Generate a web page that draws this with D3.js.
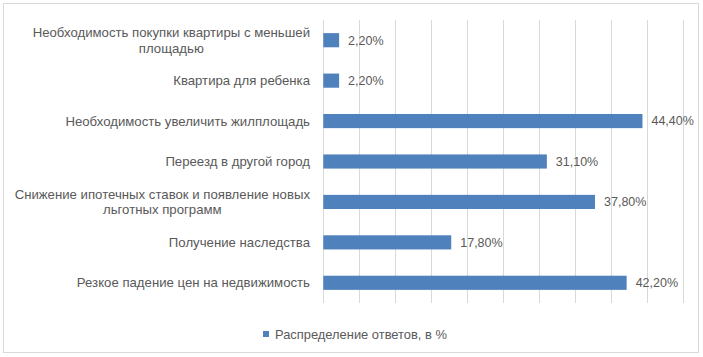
<!DOCTYPE html>
<html><head><meta charset="utf-8">
<script src="https://cdn.jsdelivr.net/npm/d3@7"></script>
<style>body{margin:0;background:#fff}svg{display:block}</style>
</head><body><svg id="c" width="703" height="357"></svg>
<script>
const categories = [
  ["Необходимость покупки квартиры с меньшей","площадью"],
  ["Квартира для ребенка"],
  ["Необходимость увеличить жилплощадь"],
  ["Переезд в другой город"],
  ["Снижение ипотечных ставок и появление новых","льготных программ"],
  ["Получение наследства"],
  ["Резкое падение цен на недвижимость"]
];
const values = [2.2, 2.2, 44.4, 31.1, 37.8, 17.8, 42.2];
const xTicks = [0,5,10,15,20,25,30,35,40,45,50];
const seriesName = "Распределение ответов, в %";

const svg = d3.select("#c");
const font = "'Liberation Sans', Arial, sans-serif";
const txt = "#595959";
svg.append("rect").attr("x",3.5).attr("y",3.5).attr("width",695).attr("height",349)
  .attr("fill","#fff").attr("stroke","#d9d9d9");

const x = d3.scaleLinear().domain([0,50]).range([323.3,682.7]);
const y = d3.scaleBand().domain(d3.range(categories.length)).range([20,303]).paddingInner(0.65).paddingOuter(0.325);

svg.append("g").selectAll("line").data(xTicks).join("line")
  .attr("x1",d=>Math.round(x(d))+0.5).attr("x2",d=>Math.round(x(d))+0.5)
  .attr("y1",20).attr("y2",303).attr("stroke","#d9d9d9").attr("stroke-width",1);

svg.append("g").selectAll("rect").data(values).join("rect")
  .attr("x",x(0)).attr("y",(d,i)=>y(i)).attr("width",d=>x(d)-x(0)).attr("height",y.bandwidth())
  .attr("fill","#4f81bd");

svg.append("g").selectAll("text").data(values).join("text")
  .attr("x",d=>x(d)+9).attr("y",(d,i)=>y(i)+y.bandwidth()/2).attr("dy","0.35em")
  .attr("font-family",font).attr("font-size",12.5).attr("fill",txt)
  .text(d=>d.toFixed(2).replace(".",",")+"%");

// category labels
const lab = svg.append("g");
categories.forEach((lines,i)=>{
  const cy = y(i)+y.bandwidth()/2;
  const g = lab.append("text").attr("font-family",font).attr("font-size",13.2).attr("fill",txt).attr("text-anchor","middle");
  const n = lines.length;
  lines.forEach((l,j)=>{
    g.append("tspan").attr("y",cy + (j-(n-1)/2)*15.5).attr("dy","0.35em").text(l);
  });
  let w = 0;
  g.selectAll("tspan").each(function(){w=Math.max(w,this.getComputedTextLength());});
  g.selectAll("tspan").attr("x",310 - w/2);
});

// legend
svg.append("rect").attr("x",263).attr("y",331).attr("width",6).attr("height",6).attr("fill","#4f81bd");
svg.append("text").attr("x",275).attr("y",334).attr("dy","0.35em").attr("font-family",font).attr("font-size",12.9)
  .attr("fill",txt).text(seriesName);
</script></body></html>
